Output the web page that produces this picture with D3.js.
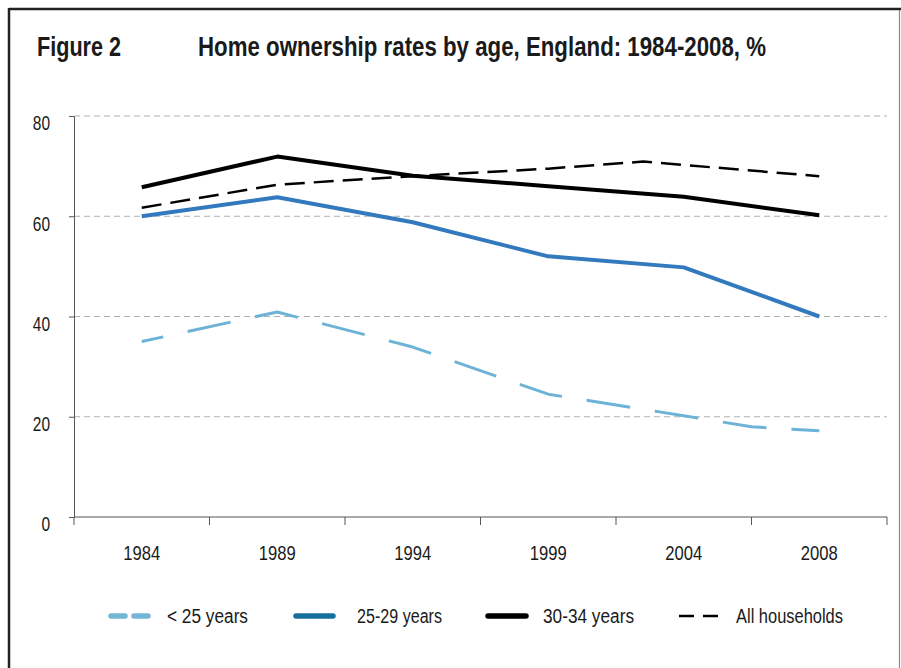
<!DOCTYPE html>
<html>
<head>
<meta charset="utf-8">
<script src="https://cdn.jsdelivr.net/npm/d3@7/dist/d3.min.js"></script>
<style>
  html, body { margin: 0; padding: 0; background: #fff; }
  svg { display: block; }
  text { font-family: "Liberation Sans Narrow", "Liberation Sans", Arial, sans-serif; fill: #1a1a1a; }
</style>
</head>
<body>
<svg id="chart" width="901" height="668"></svg>
<script>
// ---- Data ----
const categories = ["1984", "1989", "1994", "1999", "2004", "2008"];
const categoryYears = [1984, 1989, 1994, 1999, 2004, 2008];
const yTicks = [0, 20, 40, 60, 80];

const under25Years  = [1984, 1989, 1994, 1999, 2004, 2006, 2008];
const under25Values = [35, 40.9, 33.9, 24.5, 20.2, 18.0, 17.2];

const age2529Years  = [1984, 1989, 1994, 1999, 2004, 2008];
const age2529Values = [60, 63.8, 58.8, 52.0, 49.8, 40.0];

const age3034Years  = [1984, 1989, 1994, 1999, 2004, 2008];
const age3034Values = [65.8, 71.9, 68.1, 66.0, 63.9, 60.2];

const allYears  = [1984, 1989, 1994, 1999, 2002.5, 2008];
const allValues = [61.7, 66.3, 68.0, 69.5, 70.9, 68.0];

const seriesNames = ["< 25 years", "25-29 years", "30-34 years", "All households"];

// ---- Layout ----
const svg = d3.select("#chart");
const W = 901, H = 668;
const plot = { left: 74, right: 887, top: 116, bottom: 517 };
const FONT = '"Liberation Sans Narrow", "Liberation Sans", Arial, sans-serif';

// frame
svg.append("line").attr("x1", 9).attr("x2", 901).attr("y1", 9).attr("y2", 9)
  .attr("stroke", "#222").attr("stroke-width", 2.5);
svg.append("line").attr("x1", 9).attr("x2", 9).attr("y1", 8).attr("y2", H)
  .attr("stroke", "#222").attr("stroke-width", 2.5);
svg.append("line").attr("x1", 899.5).attr("x2", 899.5).attr("y1", 10).attr("y2", H)
  .attr("stroke", "#8a8a8a").attr("stroke-width", 1.2);

// titles
svg.append("text").attr("x", 37).attr("y", 56)
  .attr("font-size", 28).attr("font-weight", "bold")
  .attr("textLength", 84).attr("lengthAdjust", "spacingAndGlyphs")
  .text("Figure 2");
svg.append("text").attr("x", 198).attr("y", 56)
  .attr("font-size", 28).attr("font-weight", "bold")
  .attr("textLength", 568).attr("lengthAdjust", "spacingAndGlyphs")
  .text("Home ownership rates by age, England: 1984-2008, %");

// scales
const xBand = d3.scaleBand().domain(categories).range([plot.left, plot.right]).padding(0);
const xYear = d3.scaleLinear()
  .domain(categoryYears)
  .range(categories.map(c => xBand(c) + xBand.bandwidth() / 2));
const y = d3.scaleLinear().domain([0, 80]).range([plot.bottom, plot.top]);

// gridlines
svg.append("g").selectAll("line").data(yTicks.filter(d => d > 0)).join("line")
  .attr("x1", plot.left).attr("x2", plot.right)
  .attr("y1", d => y(d)).attr("y2", d => y(d))
  .attr("stroke", "#b0b0b0").attr("stroke-width", 1)
  .attr("stroke-dasharray", "6,4");

// y axis
const yAxis = svg.append("g").attr("transform", `translate(${plot.left},0)`)
  .call(d3.axisLeft(y).tickValues(yTicks).tickSize(5).tickPadding(0).tickFormat(d3.format("d")));
yAxis.select(".domain").attr("stroke", "#555");
yAxis.selectAll(".tick line").attr("stroke", "#555");
yAxis.selectAll(".tick text")
  .attr("x", -24).attr("dy", "0.34em").attr("y", 7)
  .attr("font-size", 20).attr("fill", "#1a1a1a")
  .attr("textLength", d => String(d).length * 8.6)
  .attr("lengthAdjust", "spacingAndGlyphs")
  .style("font-family", FONT);

// x axis
const xAxis = svg.append("g").attr("transform", `translate(0,${plot.bottom})`)
  .call(d3.axisBottom(xBand).tickSize(0).tickPadding(0));
xAxis.select(".domain").attr("stroke", "#555").attr("d", `M${plot.left},0H${plot.right}`);
xAxis.selectAll(".tick text").attr("y", 43).attr("dy", 0)
  .attr("font-size", 20).attr("fill", "#1a1a1a")
  .attr("textLength", 37).attr("lengthAdjust", "spacingAndGlyphs")
  .style("font-family", FONT);
// boundary ticks
const boundaries = categories.map(c => xBand(c)).concat([plot.right]);
xAxis.selectAll(".btick").data(boundaries).join("line")
  .attr("class", "btick")
  .attr("x1", d => d).attr("x2", d => d).attr("y1", 0).attr("y2", 8)
  .attr("stroke", "#555").attr("stroke-width", 1);

// lines
const line = d3.line().x(d => xYear(d[0])).y(d => y(d[1]));
const zip = (a, b) => a.map((v, i) => [v, b[i]]);

const series = [
  { name: seriesNames[0], data: zip(under25Years, under25Values), color: "#6db3d7", width: 3, dash: "44,25", offset: 22 },
  { name: seriesNames[1], data: zip(age2529Years, age2529Values), color: "#3379be", width: 4, dash: null },
  { name: seriesNames[2], data: zip(age3034Years, age3034Values), color: "#000", width: 4, dash: null },
  { name: seriesNames[3], data: zip(allYears, allValues), color: "#000", width: 2.5, dash: "20,9", offset: 0 }
];
const drawOrder = [0, 3, 1, 2];
drawOrder.forEach(i => {
  const s = series[i];
  const p = svg.append("path").datum(s.data)
    .attr("d", line).attr("fill", "none")
    .attr("stroke", s.color).attr("stroke-width", s.width)
    .attr("stroke-linejoin", "round");
  if (s.dash) p.attr("stroke-dasharray", s.dash).attr("stroke-dashoffset", s.offset);
});

// legend
const legendY = 616;
const legendItems = [
  { x0: 111, x1: 148, tx: 167, color: "#74b6d6", width: 5.5, dash: "14,9", cap: "round", tw: 81 },
  { x0: 296, x1: 333, tx: 357, color: "#15709f", width: 5.5, dash: null, cap: "round", tw: 85 },
  { x0: 488, x1: 526, tx: 543, color: "#000", width: 5.5, dash: null, cap: "round", tw: 91 },
  { x0: 679, x1: 718, tx: 736, color: "#000", width: 2.5, dash: "15,9", cap: "butt", tw: 107 }
];
legendItems.forEach((li, i) => {
  const l = svg.append("line")
    .attr("x1", li.x0).attr("x2", li.x1).attr("y1", legendY).attr("y2", legendY)
    .attr("stroke", li.color).attr("stroke-width", li.width).attr("stroke-linecap", li.cap);
  if (li.dash) l.attr("stroke-dasharray", li.dash);
  svg.append("text").attr("x", li.tx).attr("y", legendY).attr("dy", "0.36em")
    .attr("font-size", 20)
    .attr("textLength", li.tw).attr("lengthAdjust", "spacingAndGlyphs")
    .text(seriesNames[i]);
});
</script>
</body>
</html>
